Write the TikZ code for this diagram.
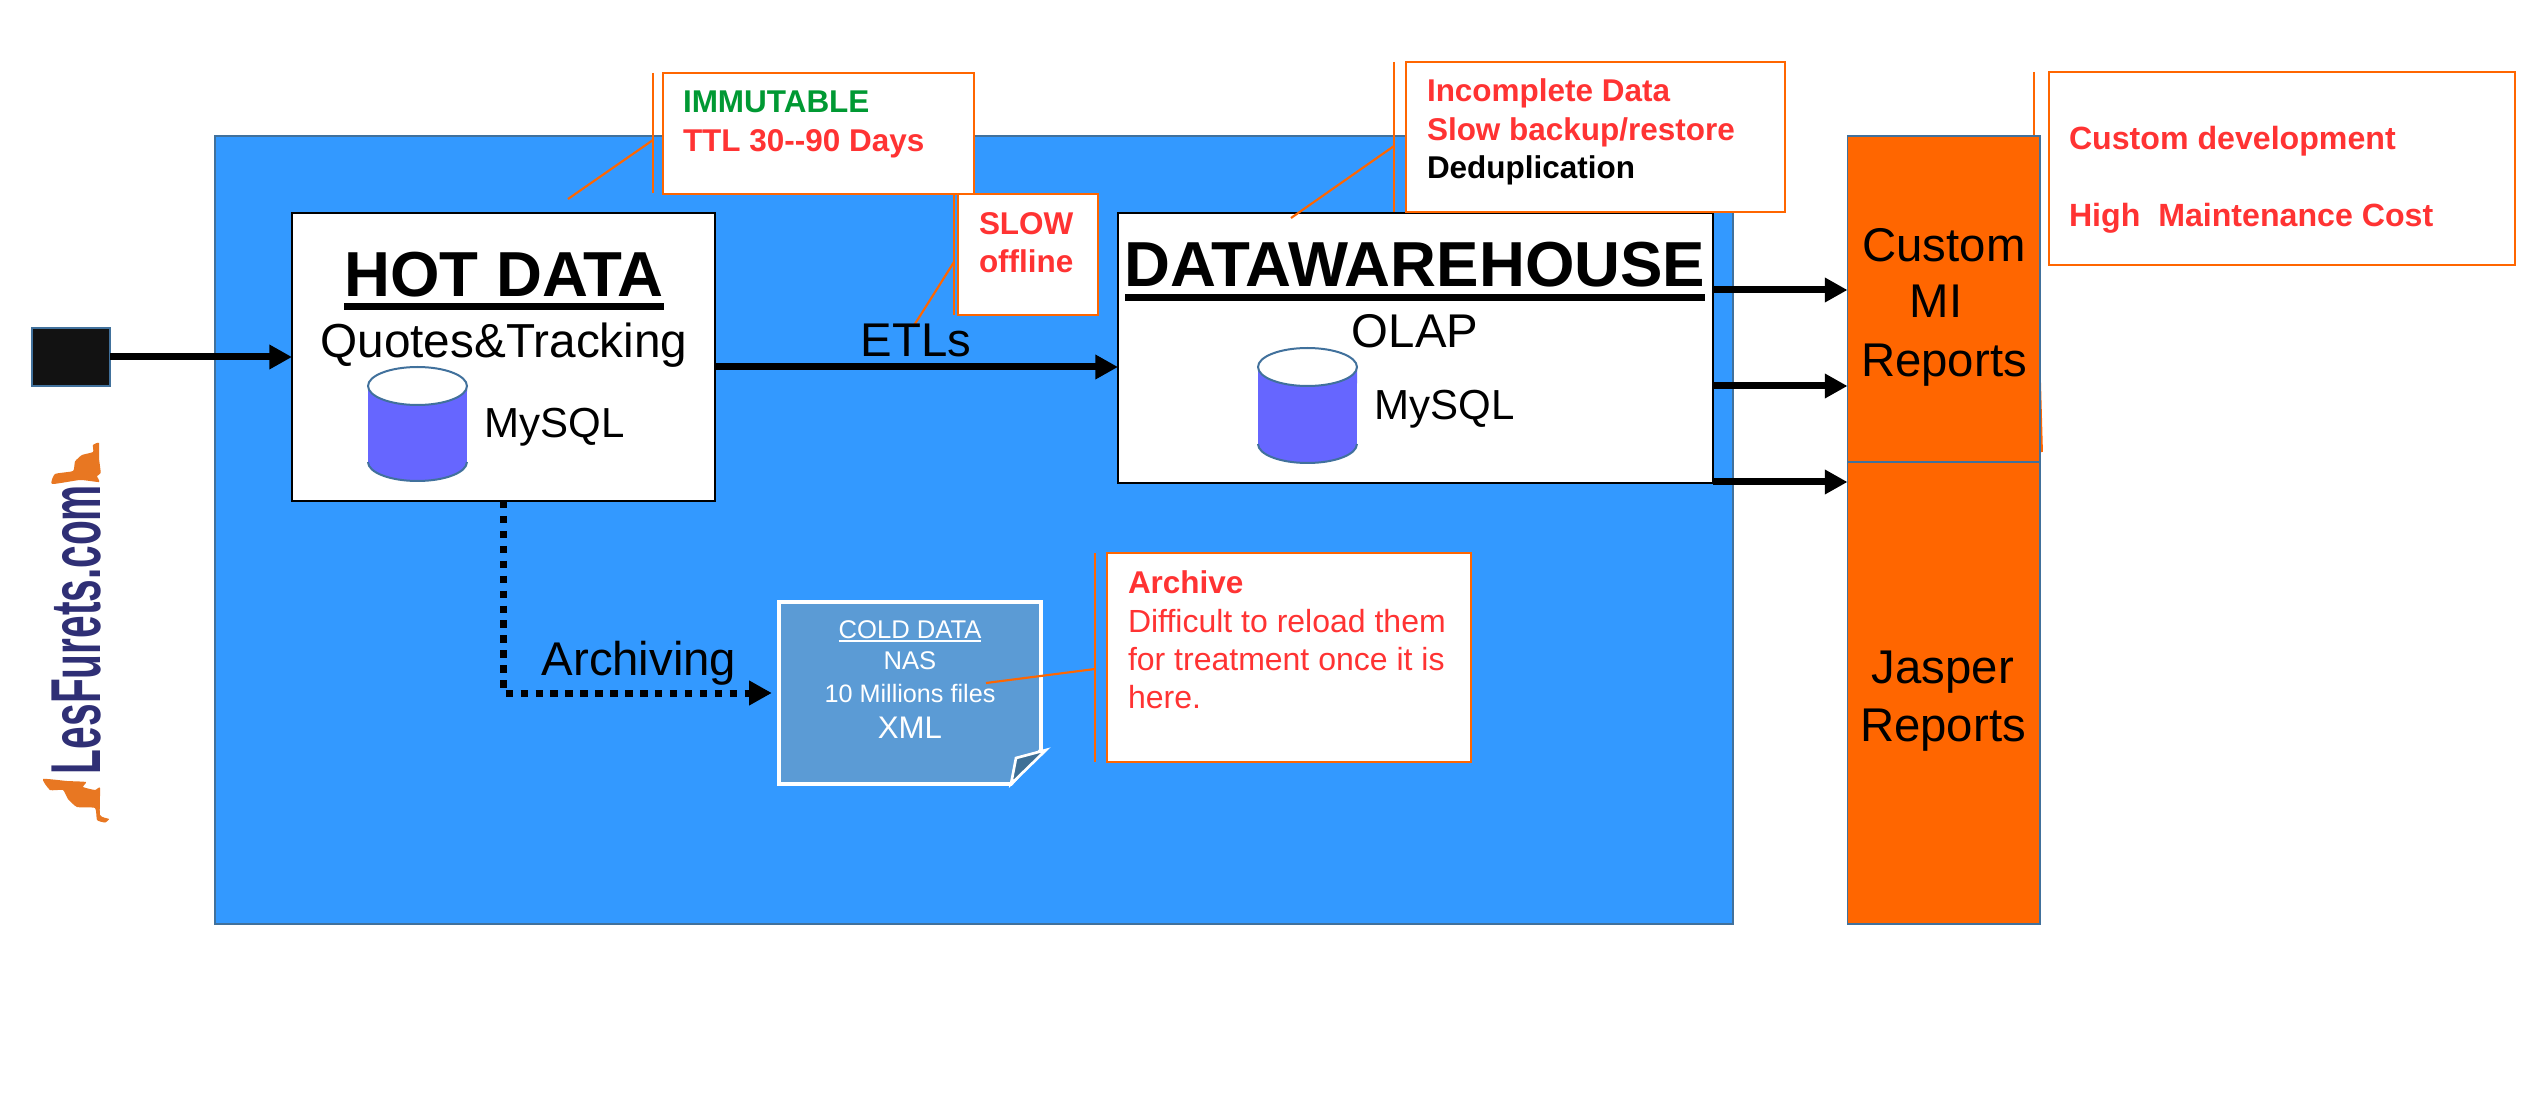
\documentclass[tikz,border=0pt]{standalone}
\usepackage{fontspec}
\usepackage{graphicx}
\setmainfont{Liberation Sans}
\usetikzlibrary{arrows.meta,calc}
\definecolor{bgblue}{HTML}{3399FF}
\definecolor{edgeblue}{HTML}{41719C}
\definecolor{furange}{HTML}{FF6600}
\definecolor{alertred}{HTML}{FF3333}
\definecolor{okgreen}{HTML}{009933}
\definecolor{cyl}{HTML}{6666FF}
\definecolor{colddoc}{HTML}{5B9BD5}
\definecolor{foldc}{HTML}{3F7096}
\definecolor{logoblue}{HTML}{2F2F75}
\definecolor{logoorange}{HTML}{E87722}
\newcommand\ulbar[3]{\leavevmode\sbox0{#1}\rlap{\rule[-#2]{\wd0}{#3}}\box0 }
\newcommand\dbcyl[3]{%
  \fill[cyl] (#1,#2+19) -- (#1,#3-19) arc[start angle=180,end angle=360,x radius=37.1pt,y radius=14.25pt] -- (#1+99,#2+19) -- cycle;
  \draw[cyledge] (#1,#3-19) arc[start angle=180,end angle=360,x radius=37.1pt,y radius=14.25pt];
  \draw[cyledge,fill=white] (#1+49.5,#2+19) ellipse[x radius=37.1pt,y radius=14.25pt];}
\tikzset{
  x=0.75pt,y=-0.75pt,
  wh/.style 2 args={minimum width=#1*0.75pt,minimum height=#2*0.75pt,inner sep=0pt,outer sep=0pt},
  panel/.style={draw=edgeblue,line width=1.2pt,fill=bgblue},
  whitebox/.style={draw=black,line width=1.6pt,fill=white},
  report/.style={draw=edgeblue,line width=1.4pt,fill=furange},
  note/.style={draw=furange,line width=2.2pt,fill=white},
  leader/.style={draw=furange,line width=1.6pt},
  cyledge/.style={draw=edgeblue,line width=1.5pt},
  flow/.style={draw=black,line width=5.25pt,-{Triangle[length=17pt,width=17.5pt]}},
  dotflow/.style={flow,dash pattern=on 5.6pt off 5.6pt},
  lab/.style={inner sep=0pt,outer sep=0pt,anchor=base},
  title/.style={lab,font=\fontsize{47.7}{50}\bfseries\selectfont},
  big/.style={lab,font=\fontsize{35.5}{40}\selectfont},
  mid/.style={lab,font=\fontsize{31.5}{36}\selectfont},
  alert/.style={inner sep=0pt,outer sep=0pt,anchor=base west,align=left,font=\fontsize{23.6}{29.25}\bfseries\selectfont},
  alertplain/.style={alert,text=alertred,font=\fontsize{24}{29}\selectfont},
  alertcus/.style={alert,text=alertred,font=\fontsize{24.1}{29}\bfseries\selectfont},
  coldtxt/.style={lab,text=white,font=\fontsize{19.2}{22}\selectfont},
}
\begin{document}
\begin{tikzpicture}
\useasboundingbox (0,0) rectangle (2532,1112);
\fill[white] (0,0) rectangle (2532,1112);

% panel and main boxes
\node[panel,wh={1518}{788}] (panel) at (974,530) {};
\node[whitebox,wh={423}{288}] (hot) at (503.5,357) {};
\node[whitebox,wh={595}{270}] (dw) at (1415.5,348) {};
\node[draw=edgeblue,line width=1.6pt,fill=black!93,wh={78}{58}] (src) at (71,357) {};

% custom callout goes under the report box
\coordinate (cusA) at (2034,168);
\coordinate (cusB) at (2042,452);
\node[note,line width=1.8pt,wh={466}{193}] (cusnote) at (2282,168.5) {};
\draw[leader,line width=1.4pt] (2034,72) -- (2034,265);
\draw[leader,line width=1.4pt] (cusA) -- (cusB);

\node[report,wh={192.5}{326}] (mi) at (1943.75,299) {};
\node[report,wh={192.5}{462}] (jasper) at (1943.75,693) {};

% cylinders
\dbcyl{368}{367}{481}
\dbcyl{1258}{348}{463}

% cold data document
\node[wh={263}{182}] (cold) at (910,693) {};
\path[draw=white,line width=2.8pt,fill=colddoc,line join=miter]
  (779,602) -- (1041,602) -- (1041,750) -- (1011,784) -- (779,784) -- cycle;
\path[draw=white,line width=2pt,fill=foldc] (1011,784) -- (1016,758) -- (1046,750) -- cycle;

% callouts
\coordinate (immA) at (653,140);
\coordinate (immB) at (568,199);
\coordinate (sloA) at (954,262);
\coordinate (sloB) at (913,327);
\coordinate (incA) at (1394,146);
\coordinate (incB) at (1291,218);
\coordinate (arcA) at (1095,669);
\coordinate (arcB) at (986,683);
\node[note,wh={311}{121}] (immnote) at (818.5,133.5) {};
\node[note,wh={140}{121}] (slonote) at (1028,254.5) {};
\node[note,wh={379}{150}] (incnote) at (1595.5,137) {};
\node[note,wh={364}{209}] (arcnote) at (1289,657.5) {};
\draw[leader] (653,73) -- (653,193);
\draw[leader] (immA) -- (immB);
\draw[leader] (954,194) -- (954,315);
\draw[leader] (sloA) -- (sloB);
\draw[leader] (1394,62) -- (1394,212);
\draw[leader] (incA) -- (incB);
\draw[leader] (1095,553) -- (1095,762);

% connectors
\draw[flow] (src.east) -- (hot.west);
\draw[flow] (hot.east |- 0,367) -- (dw.west |- 0,367);
\draw[flow] (dw.east |- 0,290) -- (mi.west |- 0,290);
\draw[flow] (dw.east |- 0,386) -- (mi.west |- 0,386);
\draw[flow] (dw.east |- 0,482) -- (jasper.west |- 0,482);
\draw[dotflow,shorten >=5pt] (hot.south) |- (cold.west);

% main labels
\node[title] (hotT) at (504,297) {\ulbar{HOT DATA}{10pt}{5.25pt}};
\node[big,font=\fontsize{35.8}{40}\selectfont] (hotS) at (504,358) {Quotes\&Tracking};
\node[mid] (hotM) at (554.5,438) {MySQL};
\node[title] (dwT) at (1415,287) {\ulbar{DATAWAREHOUSE}{10.5pt}{5.25pt}};
\node[big] (dwS) at (1415,348) {OLAP};
\node[mid] (dwM) at (1444.5,420) {MySQL};
\node[big] (etl) at (916,357) {ETLs};
\node[big] (arch) at (639,675) {Archiving};
\node[big] (miA) at (1944,262) {Custom};
\node[big] (miB) at (1936,318) {MI};
\node[big] (miC) at (1944,377) {Reports};
\node[big] (jaA) at (1943,683) {Jasper};
\node[big] (jaB) at (1943,741) {Reports};

% cold data labels
\node[coldtxt] (c1) at (910,638) {\ulbar{COLD DATA}{2.8pt}{1.2pt}};
\node[coldtxt] (c2) at (910,669) {NAS};
\node[coldtxt,font=\fontsize{18.9}{22}\selectfont] (c3) at (910,702) {10 Millions files};
\node[coldtxt,font=\fontsize{23.4}{26}\selectfont] (c4) at (910,738) {XML};
\draw[leader] (arcA) -- (arcB);

% callout texts
\node[alert] (immT) at (683,113) {\textcolor{okgreen}{IMMUTABLE}};
\node[alert,text=alertred] (immU) at (683,152) {TTL 30-{}-90 Days};
\node[alert,text=alertred] (sloT) at (979,235) {SLOW};
\node[alert,text=alertred] (sloU) at (979,273) {offline};
\node[alert,text=alertred] (incT) at (1427,102) {Incomplete Data};
\node[alert,text=alertred] (incU) at (1427,141) {Slow backup/restore};
\node[alert,text=black] (incV) at (1427,179) {Deduplication};
\node[alertcus] (cusT) at (2069,150) {Custom development};
\node[alertcus] (cusU) at (2069,227) {High\ \ Maintenance Cost};
\node[alert,text=alertred] (arcT) at (1128,593) {Archive};
\node[alertplain] (arcU) at (1128,632) {Difficult to reload them};
\node[alertplain] (arcV) at (1128,670) {for treatment once it is};
\node[alertplain] (arcW) at (1128,708) {here.};

% logo
\node[inner sep=0pt,outer sep=0pt,anchor=base west,rotate=90,text=logoblue,font=\fontsize{53}{60}\bfseries\selectfont] (logo) at (100,774) {\scalebox{0.575}[1]{LesFurets.com}};
\fill[logoorange] plot[smooth cycle,tension=0.3] coordinates {(52,484) (55,474) (73,471) (75,461.5) (82,455) (93,452) (93,445) (99,443) (99,458) (100.7,473) (97,476) (99,482) (80,480)};
\fill[logoorange] plot[smooth cycle,tension=0.3] coordinates {(43,779) (67,781) (86,782) (83,787) (95,790) (100,788) (100,815) (109,819) (105,822.5) (97,820) (95,808) (77,807) (68,799) (63,790) (50,790)};
\end{tikzpicture}
\end{document}
